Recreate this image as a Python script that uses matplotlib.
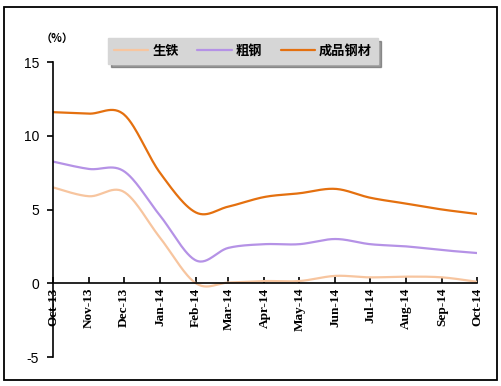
import numpy as np
import pandas as pd
import matplotlib
matplotlib.use('Agg')
import matplotlib.pyplot as plt
import matplotlib.dates as mdates
from matplotlib.patches import Rectangle

plt.rcParams['font.family'] = ['Noto Sans CJK SC', 'DejaVu Sans']
plt.rcParams['axes.unicode_minus'] = False

# monthly growth (%), Oct-13 .. Oct-14
months = pd.date_range('2013-10-01', '2014-10-01', freq='MS')
pig_iron = [6.5, 5.9, 6.2, 3.1, 0.0, 0.05, 0.15, 0.15, 0.5, 0.4, 0.45, 0.4, 0.1]
crude_steel = [8.25, 7.75, 7.6, 4.6, 1.55, 2.4, 2.65, 2.65, 3.0, 2.65, 2.5, 2.25, 2.05]
finished_steel = [11.6, 11.5, 11.45, 7.5, 4.8, 5.2, 5.85, 6.1, 6.4, 5.8, 5.4, 5.0, 4.7]

labels = ['生铁', '粗钢', '成品钢材']
colors = ['#F7C59F', '#B592E6', '#E4700F']


def smooth(xs, ys, n=30):
    # excel-like smoothed line (bezier through the points)
    xs = np.asarray(xs, float)
    ys = np.asarray(ys, float)
    px = np.concatenate([[xs[0]], xs, [xs[-1]]])
    py = np.concatenate([[ys[0]], ys, [ys[-1]]])
    outx, outy = [], []
    t = np.linspace(0, 1, n)
    for i in range(1, len(px) - 2):
        p0 = np.array([px[i], py[i]])
        p3 = np.array([px[i + 1], py[i + 1]])
        c1 = p0 + (np.array([px[i + 1], py[i + 1]]) - np.array([px[i - 1], py[i - 1]])) / 6
        c2 = p3 - (np.array([px[i + 2], py[i + 2]]) - np.array([px[i], py[i]])) / 6
        b = ((1 - t) ** 3)[:, None] * p0 + (3 * (1 - t) ** 2 * t)[:, None] * c1 \
            + (3 * (1 - t) * t ** 2)[:, None] * c2 + (t ** 3)[:, None] * p3
        outx.extend(b[:, 0])
        outy.extend(b[:, 1])
    return np.array(outx), np.array(outy)


fig = plt.figure(figsize=(5.02, 3.86), dpi=100)
ax = fig.add_axes([0.1056, 0.0751, 0.8446, 0.7642])

xnum = mdates.date2num(months)
for vals, lab, col in zip([pig_iron, crude_steel, finished_steel], labels, colors):
    sx, sy = smooth(xnum, vals)
    ax.plot(sx, sy, color=col, lw=1.6, label=lab, solid_capstyle='round')

ax.set_xlim(xnum[0], xnum[-1])
ax.set_ylim(-5, 15)
ax.set_yticks([-5, 0, 5, 10, 15])
ax.set_xticks(xnum)
ax.set_xticklabels([])

for s in ['top', 'right']:
    ax.spines[s].set_visible(False)
ax.spines['bottom'].set_position(('data', 0))
for s in ['left', 'bottom']:
    ax.spines[s].set_linewidth(1.2)
ax.tick_params(axis='y', direction='out', length=4, width=1.2, pad=6,
               labelsize=10, labelfontfamily='Liberation Sans')
ax.tick_params(axis='x', direction='in', length=4, width=1.2)

for x, d in zip(xnum, months):
    ax.text(x, -0.3, d.strftime('%b-%y'), rotation=90, ha='center', va='top',
            fontsize=9.5, fontweight='bold', family='Liberation Serif')

fig.text(0.1135, 0.9016, '（%）', fontsize=8, fontweight='bold', ha='center', va='center')

leg = ax.legend(loc='center', bbox_to_anchor=(0.484, 0.868), bbox_transform=fig.transFigure,
                ncol=3, frameon=True, fancybox=False, shadow=True,
                prop={'weight': 'bold', 'size': 9.5}, handlelength=2.6, columnspacing=1.4,
                handletextpad=0.3, borderpad=0.45)
leg.get_frame().set_facecolor('#D6D6D6')
leg.get_frame().set_edgecolor('#D6D6D6')
leg.get_frame().set_alpha(1)

fig.patches.append(Rectangle((0.008, 0.0155), 0.982, 0.9665, transform=fig.transFigure,
                             fill=False, edgecolor='black', lw=1.3))

fig.savefig('out.png', dpi=100)
